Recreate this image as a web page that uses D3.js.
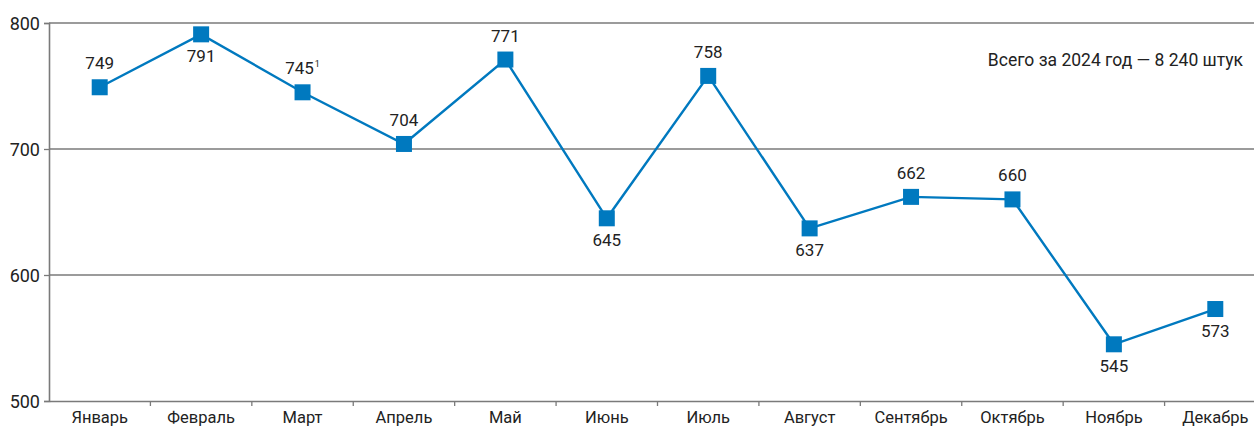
<!DOCTYPE html>
<html><head><meta charset="utf-8">
<script src="https://cdn.jsdelivr.net/npm/d3@7"></script>
<style>body{margin:0;background:#fff;overflow:hidden}svg{display:block}text{font-family:Roboto,"Noto Sans",sans-serif;fill:#222}</style>
</head><body><svg id="c" width="1254" height="429"></svg>
<script>
const months = ["Январь","Февраль","Март","Апрель","Май","Июнь","Июль","Август","Сентябрь","Октябрь","Ноябрь","Декабрь"];
const values = [749,791,745,704,771,645,758,637,662,660,545,573];
const labelPos = ["above","below","above","above","above","below","above","below","above","above","below","below"];
const notes = ["","","1","","","","","","","","",""];
const yTicks = [500,600,700,800];
const annotation = "Всего за 2024 год — 8 240 штук";

const svg = d3.select("#c");
const x = d3.scaleBand().domain(months).range([49, 1266]);
const y = d3.scaleLinear().domain([500,800]).range([401,23]);
const grey = "#7a7a7a";

svg.append("g").selectAll("line").data(yTicks.slice(1)).join("line")
  .attr("x1",49).attr("x2",1254).attr("y1",d=>y(d)).attr("y2",d=>y(d))
  .attr("stroke",grey).attr("stroke-width",1.3);

const ya = svg.append("g").attr("transform","translate(49,0)")
  .call(d3.axisLeft(y).tickValues(yTicks).tickSize(5).tickPadding(4));
ya.select(".domain").attr("stroke",grey).attr("stroke-width",1.6);
ya.selectAll(".tick line").attr("stroke",grey).attr("stroke-width",1.3);
ya.selectAll(".tick text").attr("font-size",18).attr("fill","#222").attr("dy","0.34em");

const xa = svg.append("g").attr("transform","translate(0,401)")
  .call(d3.axisBottom(x).tickSize(0).tickPadding(10));
xa.select(".domain").attr("stroke",grey).attr("stroke-width",1.6);
xa.selectAll(".tick text").attr("font-size",16.5).attr("fill","#222").attr("dy","0.72em");
svg.append("g").selectAll("line").data(months.slice(1)).join("line")
  .attr("x1",d=>x(d)).attr("x2",d=>x(d)).attr("y1",401).attr("y2",406)
  .attr("stroke",grey).attr("stroke-width",1.3);

const cx = d=>x(d)+x.bandwidth()/2;
const blue = "#0079bf";
const line = d3.line().x((d,i)=>cx(months[i])).y(d=>y(d));
svg.append("path").datum(values).attr("d",line).attr("fill","none")
  .attr("stroke",blue).attr("stroke-width",2.4);

svg.append("g").selectAll("rect").data(values).join("rect")
  .attr("x",(d,i)=>cx(months[i])-8).attr("y",d=>y(d)-8)
  .attr("width",16).attr("height",16).attr("fill",blue);

const lbl = svg.append("g").selectAll("text").data(values.map((v,i)=>({v,i}))).join("text")
  .attr("x",d=>cx(months[d.i])).attr("y",d=>y(d.v)+(labelPos[d.i]==="above"?-18:28))
  .attr("text-anchor","middle").attr("font-size",17);
lbl.append("tspan").text(d=>d.v);
lbl.filter(d=>notes[d.i]).append("tspan").attr("font-size",9).attr("dy",-7).attr("dx",1).text(d=>notes[d.i]);

svg.append("text").attr("x",1243).attr("y",66).attr("text-anchor","end")
  .attr("font-size",17.5).text(annotation);
</script></body></html>
